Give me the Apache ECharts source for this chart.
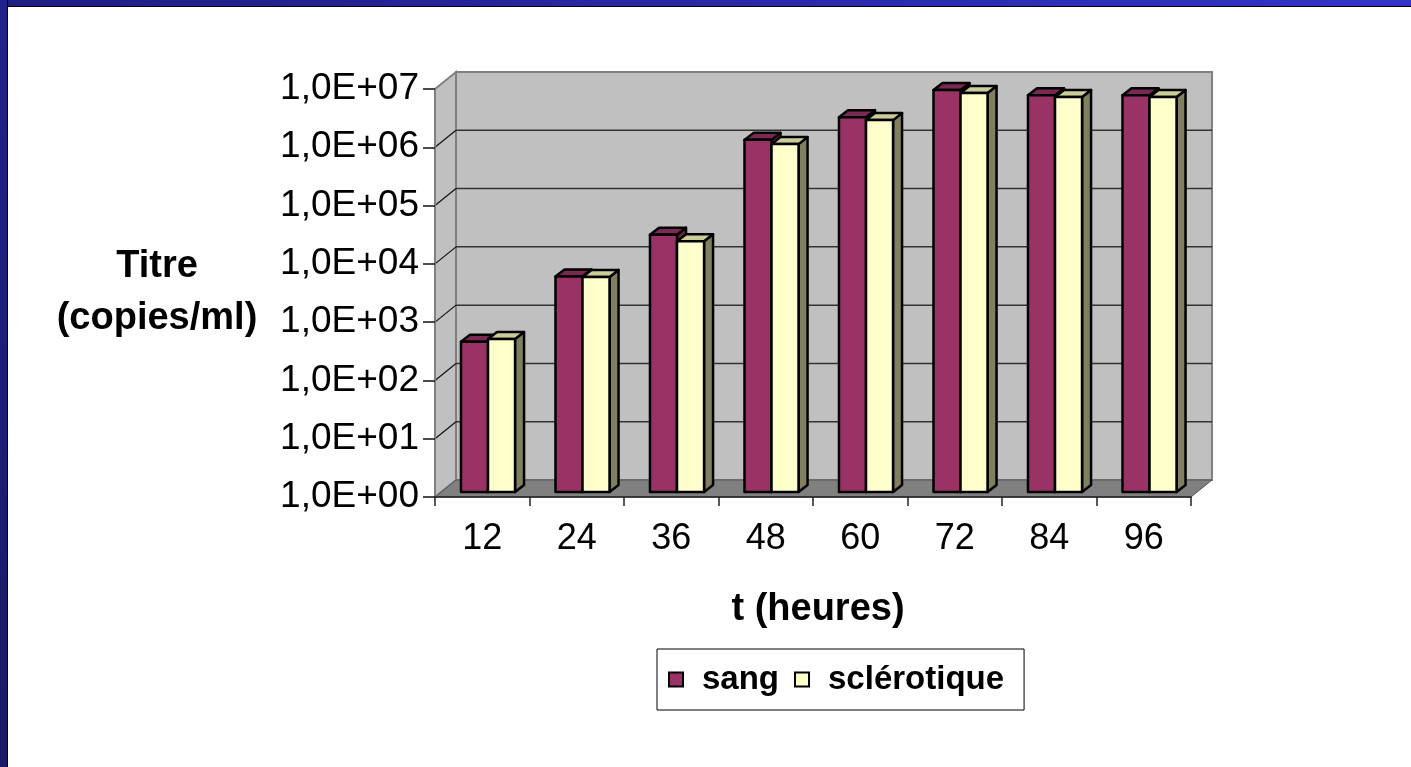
<!DOCTYPE html>
<html>
<head>
<meta charset="utf-8">
<script src="https://cdn.jsdelivr.net/npm/echarts@6.0.0/dist/echarts.min.js"></script>
<style>
	html, body { margin: 0; padding: 0; background: #fff; }
	#main { position: absolute; left: 0; top: 0; width: 1411px; height: 767px; }
	.band-top { position: absolute; left: 0; top: 0; width: 1411px; height: 6px; background: linear-gradient(to right, #1e1e82, #3434c8); border-bottom: 1px solid #000; }
	.band-left { position: absolute; left: 0; top: 0; width: 7px; height: 767px; background: linear-gradient(to bottom, #21218a, #1a1a66); border-right: 1px solid #000; }
</style>
</head>
<body>
<div id="main"></div>
<div class="band-top"></div>
<div class="band-left"></div>
<script>
var categories = ['12', '24', '36', '48', '60', '72', '84', '96'];
var sang = [380, 5000, 26000, 1100000, 2700000, 7900000, 6400000, 6400000];
var sclerotique = [420, 4900, 20000, 930000, 2400000, 7000000, 6000000, 6000000];
var yTickValues = [1, 10, 100, 1000, 10000, 100000, 1000000, 10000000];
var yTickLabels = ['1,0E+00', '1,0E+01', '1,0E+02', '1,0E+03', '1,0E+04', '1,0E+05', '1,0E+06', '1,0E+07'];

var FONT = "'Liberation Sans', Arial, sans-serif";
// profondeur des murs et des barres (pseudo 3D)
var WX = 21, WY = -17;
var FY = -5;
var DX = 9, DY = -7;

function renderWalls(params, api) {
	var cs = params.coordSys;
	var x0 = cs.x, x1 = cs.x + cs.width, yt = cs.y, yb = cs.y + cs.height;
	var children = [];
	children.push({
		type: 'rect',
		shape: { x: x0 + WX, y: yt + WY, width: cs.width, height: cs.height },
		style: { fill: '#c0c0c0', stroke: '#808080', lineWidth: 2 }
	});
	children.push({
		type: 'polygon',
		shape: { points: [[x0, yt], [x0 + WX, yt + WY], [x0 + WX, yb + WY], [x0, yb]] },
		style: { fill: '#c0c0c0', stroke: '#808080', lineWidth: 2 }
	});
	children.push({
		type: 'polygon',
		shape: { points: [[x0, yb], [x1, yb], [x1 + WX, yb + WY], [x0 + WX, yb + WY]] },
		style: { fill: '#808080', stroke: '#555', lineWidth: 1 }
	});
	yTickValues.forEach(function(v, i) {
		if (i === 0 || i === yTickValues.length - 1) return;
		var y = api.coord([0, v])[1];
		children.push({
			type: 'line',
			shape: { x1: x0 + WX, y1: y + WY, x2: x1 + WX, y2: y + WY },
			style: { stroke: '#333', lineWidth: 1.5 }
		});
		children.push({
			type: 'line',
			shape: { x1: x0, y1: y, x2: x0 + WX, y2: y + WY },
			style: { stroke: '#111', lineWidth: 1.2 }
		});
	});
	return { type: 'group', children: children };
}

function barRenderer(s, front, topColor, side) {
	return function(params, api) {
		var cs = params.coordSys;
		var bw = cs.width / categories.length;
		var idx = api.value(0);
		var top = api.coord([idx, api.value(1)]);
		var base = api.coord([idx, 1]);
		var w = bw * 0.286;
		var xl = top[0] - bw * 0.225 + s * w;
		var xr = xl + w;
		var yt = top[1] + FY;
		var yb = base[1] + FY;
		var st = { stroke: '#000', lineWidth: 2.5, lineJoin: 'round' };
		return {
			type: 'group',
			children: [{
				type: 'polygon',
				shape: { points: [[xr, yt], [xr + DX, yt + DY], [xr + DX, yb + DY], [xr, yb]] },
				style: Object.assign({ fill: side }, st)
			}, {
				type: 'polygon',
				shape: { points: [[xl, yt], [xr, yt], [xr + DX, yt + DY], [xl + DX, yt + DY]] },
				style: Object.assign({ fill: topColor }, st)
			}, {
				type: 'rect',
				shape: { x: xl, y: yt, width: w, height: yb - yt },
				style: Object.assign({ fill: front }, st)
			}]
		};
	};
}

var chart = echarts.init(document.getElementById('main'), null, { renderer: 'canvas' });
chart.setOption({
	animation: false,
	backgroundColor: '#fff',
	textStyle: { fontFamily: FONT },
	title: [{
		text: 'Titre\n(copies/ml)',
		left: 152,
		top: 236,
		textAlign: 'center',
		textStyle: { fontFamily: FONT, fontSize: 38, fontWeight: 'bold', color: '#000', lineHeight: 52 }
	}, {
		text: 't (heures)',
		left: 813,
		top: 586,
		textAlign: 'center',
		textStyle: { fontFamily: FONT, fontSize: 38, fontWeight: 'bold', color: '#000' }
	}],
	legend: {
		left: 657,
		top: 649,
		orient: 'horizontal',
		backgroundColor: '#fff',
		borderColor: '#000',
		borderWidth: 1,
		padding: [14, 20, 14, 11],
		itemGap: 15,
		itemWidth: 14,
		itemHeight: 14,
		icon: 'rect',
		textStyle: { fontFamily: FONT, fontSize: 33, fontWeight: 'bold', color: '#000', padding: [0, 0, 0, 14] },
		data: [
			{ name: 'sang', itemStyle: { color: '#993366', borderColor: '#000', borderWidth: 2 } },
			{ name: 'sclérotique', itemStyle: { color: '#ffffcc', borderColor: '#000', borderWidth: 2 } }
		]
	},
	grid: { left: 435, right: 220, top: 89, bottom: 270, containLabel: false },
	xAxis: {
		type: 'category',
		data: categories,
		z: 5,
		axisLine: { lineStyle: { color: '#222', width: 1.5 } },
		axisTick: { show: true, length: 9, lineStyle: { color: '#222', width: 1.5 } },
		axisLabel: { fontFamily: FONT, fontSize: 36, color: '#000', margin: 24 },
		splitLine: { show: false }
	},
	yAxis: {
		type: 'log',
		logBase: 10,
		min: 1,
		max: 10000000,
		splitNumber: 7,
		z: 5,
		axisLine: { show: true, lineStyle: { color: '#808080', width: 2 } },
		axisTick: { show: true, length: 12, lineStyle: { color: '#111', width: 1.5 } },
		axisLabel: {
			fontFamily: FONT, fontSize: 37, color: '#000', margin: 16,
			formatter: function(v) { return yTickLabels[Math.round(Math.log10(v))]; }
		},
		splitLine: { show: false }
	},
	series: [{
		type: 'custom',
		name: 'murs',
		silent: true,
		clip: false,
		z: 1,
		renderItem: renderWalls,
		data: [[0, 1]],
		encode: { x: 0, y: 1 }
	}, {
		type: 'custom',
		name: 'sang',
		clip: false,
		z: 3,
		itemStyle: { color: '#993366' },
		renderItem: barRenderer(0, '#993366', '#7a2952', '#6e2449'),
		data: sang.map(function(v, i) { return [i, v]; }),
		encode: { x: 0, y: 1 }
	}, {
		type: 'custom',
		name: 'sclérotique',
		clip: false,
		z: 3,
		itemStyle: { color: '#ffffcc' },
		renderItem: barRenderer(1, '#ffffcc', '#cccc99', '#808060'),
		data: sclerotique.map(function(v, i) { return [i, v]; }),
		encode: { x: 0, y: 1 }
	}]
});
</script>
</body>
</html>
